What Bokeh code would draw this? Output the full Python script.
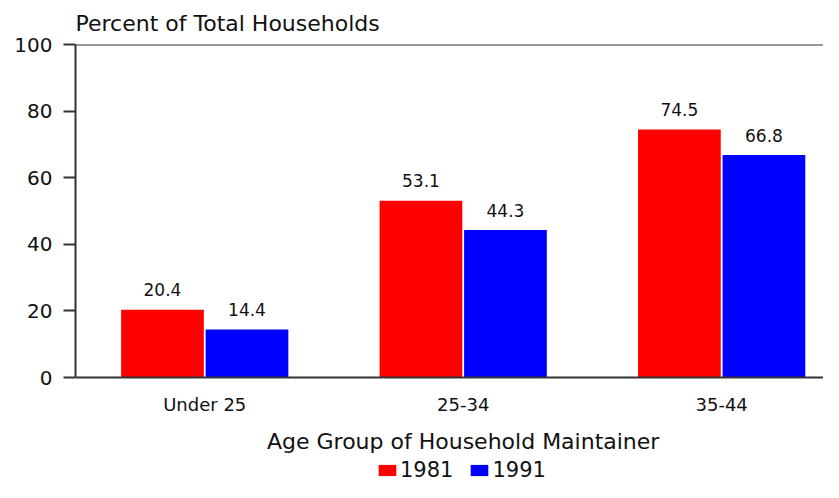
import numpy as np
from bokeh.plotting import figure
from bokeh.models import (Range1d, FixedTicker, Span, Label, Legend, LegendItem,
                          ColumnDataSource)
from bokeh.embed import file_html
from bokeh.resources import INLINE
from bokeh.core.properties import value

categories = ["Under 25", "25-34", "35-44"]
years = ["1981", "1991"]
values_1981 = [20.4, 53.1, 74.5]
values_1991 = [14.4, 44.3, 66.8]
y_ticks = [0, 20, 40, 60, 80, 100]
colors = ["#ff0000", "#0000ff"]

FONT = "DejaVu Sans"
BAR_W = 0.32
OFF = 0.1635
Y_MIN = -31.5   # room under the zero line for labels and legend

centers = np.arange(len(categories)) + 0.5

p = figure(width=823, height=482, x_range=Range1d(0, 2.894), y_range=Range1d(Y_MIN, 100),
           output_backend="svg", toolbar_location=None,
           min_border_left=75, min_border_top=44, min_border_right=0, min_border_bottom=0)

p.outline_line_color = None
p.xgrid.grid_line_color = None
p.ygrid.grid_line_color = None

p.title.text = "Percent of Total Households"
p.title.text_font = FONT
p.title.text_font_size = "22px"
p.title.text_font_style = "normal"
p.title.text_color = "#111111"
p.title.align = "left"
p.title.standoff = 17

r1 = p.vbar(x=centers - OFF, top=values_1981, width=BAR_W, fill_color=colors[0], line_color=None)
r2 = p.vbar(x=centers + OFF, top=values_1991, width=BAR_W, fill_color=colors[1], line_color=None)

lab_src = ColumnDataSource(dict(
    x=list(centers - OFF) + list(centers + OFF),
    y=values_1981 + values_1991,
    t=["%.1f" % v for v in values_1981 + values_1991],
))
p.text(x="x", y="y", text="t", source=lab_src, text_align="center", text_baseline="alphabetic",
       y_offset=-20, text_font=value(FONT), text_font_size="17px", text_color="#111111")

# y axis
ya = p.yaxis[0]
ya.ticker = FixedTicker(ticks=y_ticks)
ya.bounds = (0, 100)
ya.major_tick_out = 12
ya.major_tick_in = 0
ya.minor_tick_out = 0
ya.minor_tick_in = 0
ya.axis_line_width = 2
ya.axis_line_color = "#333333"
ya.major_tick_line_width = 2
ya.major_tick_line_color = "#333333"
ya.major_label_standoff = 11
ya.major_label_text_font = FONT
ya.major_label_text_font_size = "20px"
ya.major_label_text_color = "#111111"

# x axis, pinned at y = 0
xa = p.xaxis[0]
xa.fixed_location = 0
xa.ticker = FixedTicker(ticks=list(centers))
xa.major_label_overrides = {float(c): n for c, n in zip(centers, categories)}
xa.major_tick_out = 0
xa.major_tick_in = 0
xa.minor_tick_out = 0
xa.minor_tick_in = 0
xa.axis_line_width = 2
xa.axis_line_color = "#333333"
xa.major_label_standoff = 16
xa.major_label_text_font = FONT
xa.major_label_text_font_size = "18px"
xa.major_label_text_color = "#111111"

p.add_layout(Span(location=100, dimension="width", line_color="#333333", line_width=2))

p.add_layout(Label(x=1.5, y=-19.3, text="Age Group of Household Maintainer",
                   text_align="center", text_baseline="middle", text_font=FONT,
                   text_font_size="22px", text_color="#111111"))

legend = Legend(items=[LegendItem(label=years[0], renderers=[r1]),
                       LegendItem(label=years[1], renderers=[r2])],
                location=(301, 0), orientation="horizontal",
                glyph_width=22, glyph_height=14, label_standoff=2, spacing=15,
                padding=0, margin=0, border_line_color=None, background_fill_alpha=0,
                label_text_font=FONT, label_text_font_size="21px", label_text_color="#111111")
p.add_layout(legend, "center")

open("out.html", "w").write(file_html(p, INLINE))
